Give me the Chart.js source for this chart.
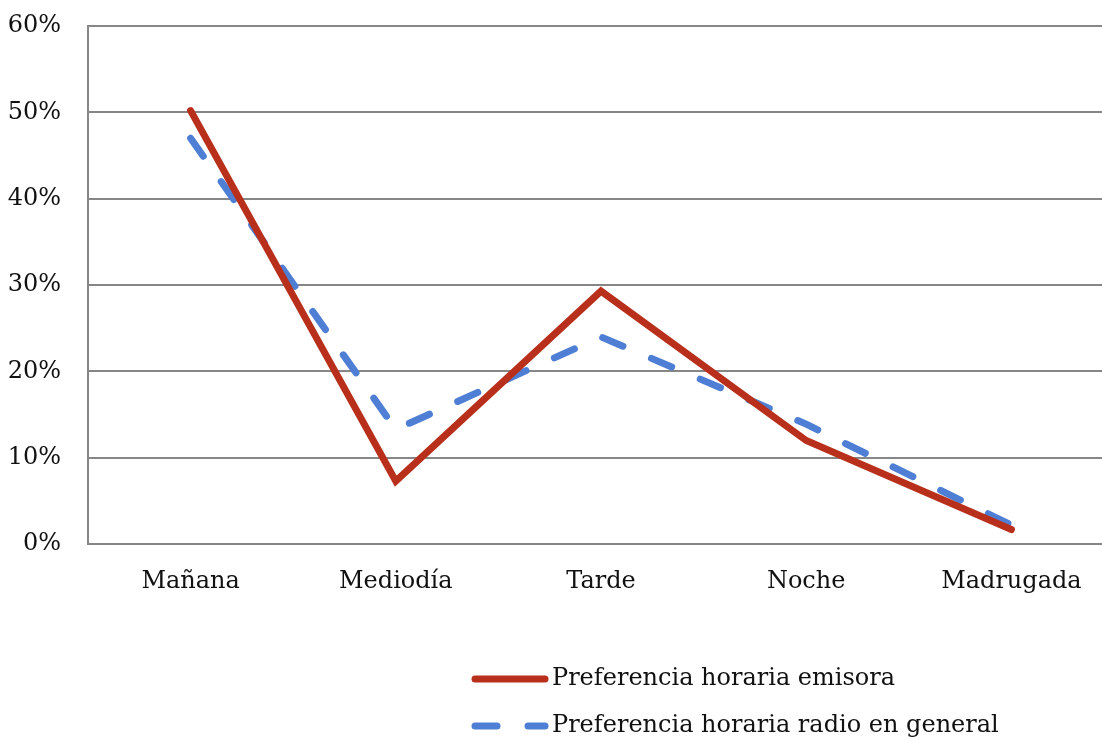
<!DOCTYPE html>
<html>
<head>
<meta charset="utf-8">
<script src="https://cdn.jsdelivr.net/npm/chart.js@4.4.1/dist/chart.umd.min.js"></script>
<style>
  html, body { margin: 0; padding: 0; background: #fff; overflow: hidden; }
  #wrap { width: 1120px; height: 740px; }
</style>
</head>
<body>
<div id="wrap"><canvas id="lineChart"></canvas></div>
<script>
// Data (percent)
const categories = ['Mañana', 'Mediodía', 'Tarde', 'Noche', 'Madrugada'];
const emisoraValues = [50.2, 7.3, 29.3, 12.0, 1.7];
const radioValues = [47.0, 13.3, 24.0, 13.9, 2.2];
const yTicks = [0, 10, 20, 30, 40, 50, 60];

const seriesLabels = ['Preferencia horaria emisora', 'Preferencia horaria radio en general'];

const fontFamily = '"DejaVu Serif", "Liberation Serif", serif';
const fontSize = 24;
const gridColor = '#868686';

// Legend stacked vertically under the chart, like the original
const stackedLegend = {
    id: 'stackedLegend',
    afterDraw(chart) {
        const ctx = chart.ctx;
        const x0 = 475;
        const y0 = chart.height - 61;
        const rowGap = 47;
        ctx.save();
        chart.data.datasets.forEach((ds, i) => {
            const y = y0 + i * rowGap;
            ctx.beginPath();
            ctx.strokeStyle = ds.borderColor;
            ctx.lineWidth = ds.borderWidth;
            ctx.lineCap = 'round';
            ctx.setLineDash(ds.borderDash || []);
            ctx.moveTo(x0, y);
            ctx.lineTo(x0 + 70, y);
            ctx.stroke();
            ctx.setLineDash([]);
            ctx.fillStyle = '#111';
            ctx.font = fontSize + 'px ' + fontFamily;
            ctx.textBaseline = 'middle';
            ctx.textAlign = 'left';
            ctx.fillText(ds.label, x0 + 77, y);
        });
        ctx.restore();
    }
};

function drawChart() {
    const ctx = document.getElementById('lineChart').getContext('2d');
    new Chart(ctx, {
        type: 'line',
        data: {
            labels: categories,
            datasets: [
                {
                    label: seriesLabels[0],
                    data: emisoraValues,
                    borderColor: '#B8301B',
                    borderWidth: 7,
                    borderCapStyle: 'round',
                    borderJoinStyle: 'miter',
                    pointRadius: 0,
                    tension: 0,
                    fill: false
                },
                {
                    label: seriesLabels[1],
                    data: radioValues,
                    borderColor: '#4E7FD5',
                    borderWidth: 7,
                    borderDash: [22, 31],
                    borderCapStyle: 'round',
                    borderJoinStyle: 'round',
                    pointRadius: 0,
                    tension: 0,
                    fill: false
                }
            ]
        },
        options: {
            responsive: true,
            maintainAspectRatio: false,
            animation: false,
            layout: {
                padding: { left: 0, right: 6, top: 26, bottom: 121 }
            },
            scales: {
                x: {
                    offset: true,
                    grid: { display: false, drawTicks: false },
                    border: { display: true, color: gridColor, width: 2 },
                    ticks: {
                        color: '#111',
                        padding: 23,
                        maxRotation: 0,
                        font: { family: fontFamily, size: fontSize }
                    }
                },
                y: {
                    min: 0,
                    max: 60,
                    afterBuildTicks(axis) {
                        axis.ticks = yTicks.map(v => ({ value: v }));
                    },
                    afterFit(axis) {
                        axis.width = 88;
                        // tick padding should not push the plot down
                        axis.paddingTop = 0;
                        axis.paddingBottom = 0;
                    },
                    grid: { color: gridColor, lineWidth: 2, drawTicks: false },
                    border: { display: true, color: gridColor, width: 2 },
                    ticks: {
                        color: '#111',
                        padding: 27,
                        font: { family: fontFamily, size: fontSize },
                        callback: v => v + '%'
                    }
                }
            },
            plugins: {
                legend: { display: false },
                tooltip: { enabled: false },
                title: { display: false }
            }
        },
        plugins: [stackedLegend]
    });
}

drawChart();
</script>
</body>
</html>
